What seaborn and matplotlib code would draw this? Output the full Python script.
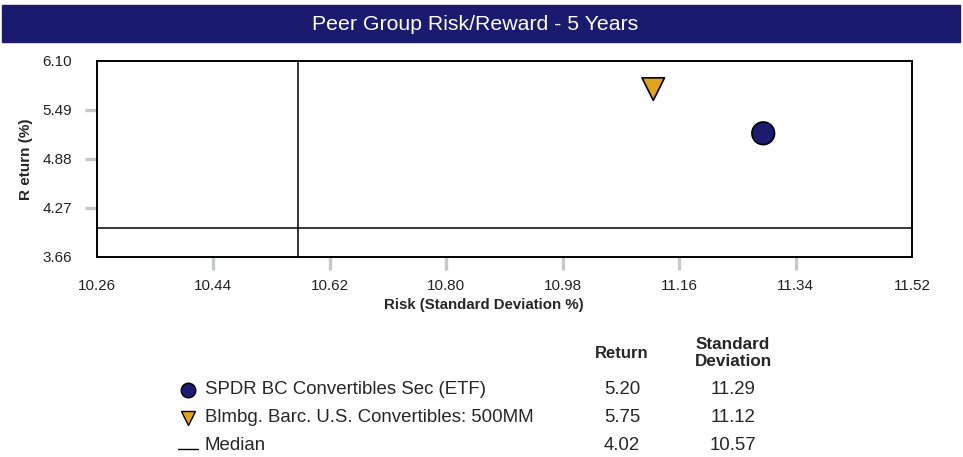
import matplotlib
matplotlib.use("Agg")
import matplotlib.pyplot as plt
from matplotlib.lines import Line2D
import seaborn as sns
import pandas as pd

# Peer group data (5-year risk/reward)
names = ["SPDR BC Convertibles Sec (ETF)", "Blmbg. Barc. U.S. Convertibles: 500MM"]
returns = [5.20, 5.75]
std_devs = [11.29, 11.12]
markers = ["o", "v"]
colors = ["#1b1b6f", "#dfa31f"]

median_return = 4.02
median_std = 10.57

x_ticks = [10.26, 10.44, 10.62, 10.80, 10.98, 11.16, 11.34, 11.52]
y_ticks = [3.66, 4.27, 4.88, 5.49, 6.10]

sns.set_theme(style="white")
plt.rcParams["font.family"] = ["Liberation Sans", "DejaVu Sans"]

W, H = 963, 457
fig = plt.figure(figsize=(W / 100, H / 100), dpi=100)


def fx(px):
    return px / W


def fy(py):
    return 1 - py / H


# Title bar
fig.patches.append(plt.Rectangle((fx(2), fy(42)), fx(958), 37 / H,
                                 transform=fig.transFigure, color="#1a1a6e", zorder=0))
fig.text(fx(475), fy(24), "Peer Group Risk/Reward - 5 Years", color="white",
         ha="center", va="center", fontsize=15.3)

ax = fig.add_axes([fx(97), fy(257), fx(912) - fx(97), (257 - 61) / H])

df = pd.DataFrame({"name": names, "ret": returns, "sd": std_devs})
sns.scatterplot(data=df, x="sd", y="ret", hue="name", style="name",
                markers=dict(zip(names, markers)),
                palette=dict(zip(names, colors)),
                s=265, edgecolor="black", linewidth=1.2,
                legend=False, ax=ax, zorder=3)

ax.axvline(median_std, color="black", lw=1.1, zorder=2)
ax.axhline(median_return, color="black", lw=1.1, zorder=2)

ax.set_xlim(x_ticks[0], x_ticks[-1])
ax.set_ylim(y_ticks[0], y_ticks[-1])
ax.set_xticks(x_ticks)
ax.set_yticks(y_ticks)
ax.set_xticklabels([f"{v:.2f}" for v in x_ticks], fontsize=11, color="#222222")
ax.set_yticklabels([f"{v:.2f}" for v in y_ticks], fontsize=11, color="#222222")
ax.tick_params(axis="both", which="both", bottom=True, left=True, length=9, width=2.4,
               color="#c5c9cc", direction="out")
ax.tick_params(axis="x", pad=7)
ax.tick_params(axis="y", pad=9)
# no tick marks at the frame corners
for t in [ax.xaxis.get_major_ticks()[0], ax.xaxis.get_major_ticks()[-1],
          ax.yaxis.get_major_ticks()[0], ax.yaxis.get_major_ticks()[-1]]:
    t.tick1line.set_visible(False)

for sp in ax.spines.values():
    sp.set_color("black")
    sp.set_linewidth(1.4)
    sp.set_zorder(4)

ax.set_xlabel("")
ax.set_ylabel("")
fig.text(fx(484), fy(305), "Risk (Standard Deviation %)", ha="center", va="center",
         fontsize=10.8, fontweight="bold")
fig.text(fx(26), fy(159), "R eturn (%)", ha="center", va="center", rotation=90,
         fontsize=11, fontweight="bold")

# Summary table below the chart
col_ret = fx(622)
col_sd = fx(733)
fig.text(col_ret, fy(353), "Return", ha="center", va="center", fontsize=12,
         fontweight="bold")
fig.text(col_sd, fy(353), "Standard\nDeviation", ha="center", va="center",
         fontsize=12.3, fontweight="bold", linespacing=1.2)

rows_y = [390, 418, 445]
for i, (nm, r, s) in enumerate(zip(names, returns, std_devs)):
    yy = fy(rows_y[i])
    fig.add_artist(Line2D([fx(188)], [yy], transform=fig.transFigure, marker=markers[i],
                          markersize=10.5, markerfacecolor=colors[i],
                          markeredgecolor="black", markeredgewidth=1.0,
                          linestyle="none"))
    fig.text(fx(205), yy, nm, ha="left", va="center", fontsize=13.4)
    fig.text(col_ret, yy, f"{r:.2f}", ha="center", va="center", fontsize=13.4)
    fig.text(col_sd, yy, f"{s:.2f}", ha="center", va="center", fontsize=13.4)

yy = fy(rows_y[2])
fig.add_artist(Line2D([fx(178), fx(198)], [fy(449), fy(449)], transform=fig.transFigure,
                      color="black", lw=1.0))
fig.text(fx(205), yy, "Median", ha="left", va="center", fontsize=13.4)
fig.text(col_ret, yy, f"{median_return:.2f}", ha="center", va="center", fontsize=13.4)
fig.text(col_sd, yy, f"{median_std:.2f}", ha="center", va="center", fontsize=13.4)

fig.savefig("out.png", dpi=100)
